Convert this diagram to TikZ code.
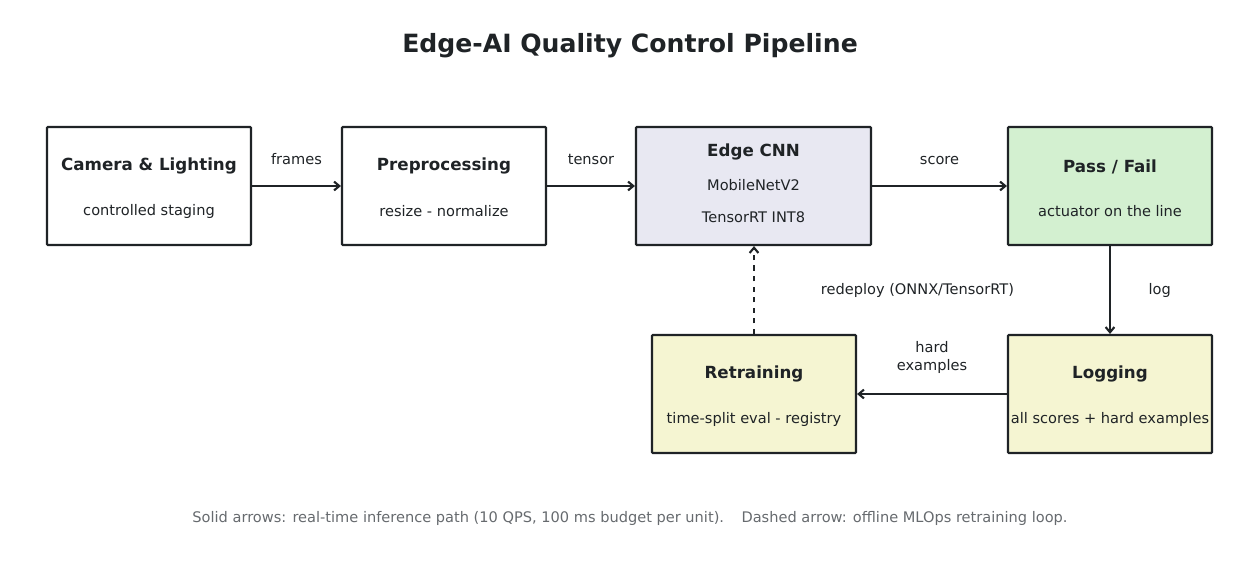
\documentclass[tikz,border=0pt]{standalone}
\usepackage{fontspec}
\setmainfont{DejaVu Sans}
\usetikzlibrary{arrows.meta,positioning}
\definecolor{ink}{HTML}{1F2326}
\definecolor{cnnfill}{HTML}{E8E8F2}
\definecolor{passfill}{HTML}{D3F0D0}
\definecolor{logfill}{HTML}{F5F5D2}
\definecolor{notegray}{HTML}{666A6E}
\tikzset{
  stage/.style={draw=ink, line width=1.2pt, rounded corners=0.5pt, minimum width=4.08cm, minimum height=2.36cm, inner sep=0pt},
  head/.style={font=\bfseries\fontsize{9.5}{11}\selectfont, text=ink},
  sub/.style={font=\fontsize{8.3}{9}\selectfont, text=ink},
  lab/.style={font=\fontsize{8.3}{10}\selectfont, text=ink, align=center},
  flow/.style={-{Straight Barb[length=3pt,width=5pt]}, line width=1.2pt, draw=ink}
}
\begin{document}
\begin{tikzpicture}[x=0.02cm,y=-0.02cm]
    \useasboundingbox (0,0) rectangle (1260,574);

    % Title
    \node[font=\bfseries\fontsize{14.3}{16}\selectfont, text=ink] (title) at (630,46) {Edge-AI Quality Control Pipeline};

    % Stages
    \node[stage, fill=white] (camera) at (149,186) {};
    \node[head] at (149,166) {Camera \& Lighting};
    \node[sub] at (149,211) {controlled staging};

    \node[stage, fill=white] (prep) at (444,186) {};
    \node[head] at (444,166) {Preprocessing};
    \node[sub] at (444,211) {resize - normalize};

    \node[stage, fill=cnnfill, minimum width=4.7cm] (cnn) at (753.5,186) {};
    \node[head] at (753.5,152) {Edge CNN};
    \node[sub] at (753.5,185) {MobileNetV2};
    \node[sub] at (753.5,217) {TensorRT INT8};

    \node[stage, fill=passfill] (pass) at (1110,186) {};
    \node[head] at (1110,167) {Pass / Fail};
    \node[sub] at (1110,211) {actuator on the line};

    \node[stage, fill=logfill] (logging) at (1110,394) {};
    \node[head] at (1110,374) {Logging};
    \node[sub] at (1110,419) {all scores + hard examples};

    \node[stage, fill=logfill] (retrain) at (754,394) {};
    \node[head] at (754,374) {Retraining};
    \node[sub] at (754,419) {time-split eval - registry};

    % Real-time path
    \draw[flow] (camera) -- (prep) node[lab, midway, above=8pt] {frames};
    \draw[flow] (prep) -- (cnn) node[lab, midway, above=8pt] {tensor};
    \draw[flow] (cnn) -- (pass) node[lab, midway, above=8pt] {score};
    \draw[flow] (pass) -- (logging) node[lab, midway, right=18pt] {log};
    \draw[flow] (logging) -- (retrain) node[lab, midway, above=8pt] {hard\\examples};

    % Offline loop
    \draw[flow, dashed] (retrain) -- (cnn.south -| retrain) node[lab, midway, right=1.2cm] {redeploy (ONNX/TensorRT)};

    % Note
    \node[font=\fontsize{8.3}{9}\selectfont, text=notegray] (note) at (630,518) {Solid arrows: real-time inference path (10 QPS, 100 ms budget per unit).\hspace{1.2em}Dashed arrow: offline MLOps retraining loop.};
\end{tikzpicture}
\end{document}
